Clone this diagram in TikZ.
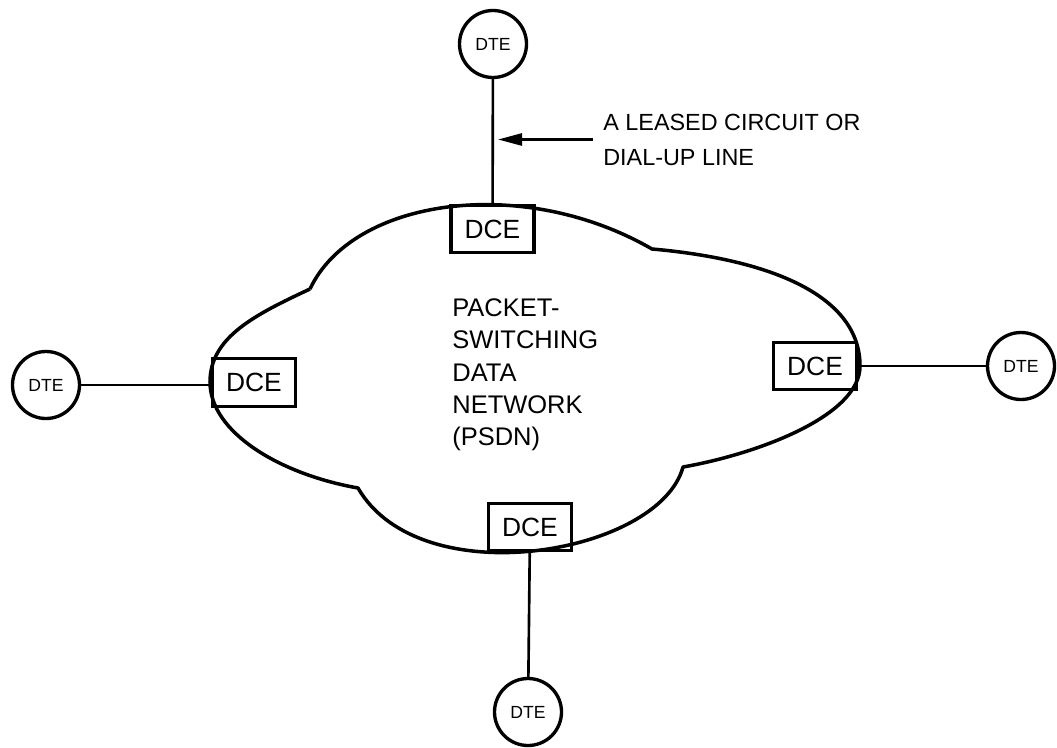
\documentclass[tikz,border=0pt]{standalone}
\usepackage{fontspec}
\setmainfont{Liberation Sans}
\usetikzlibrary{positioning}
\usetikzlibrary{arrows.meta}

\begin{document}
\begin{tikzpicture}[
    dte/.style={shape=circle,draw=black,line width=1.9pt,minimum size=1.34cm,inner sep=0pt,font=\fontsize{10}{12}\selectfont},
    dce/.style={shape=rectangle,draw=black,line width=1.9pt,minimum width=1.66cm,minimum height=0.95cm,inner sep=0pt,font=\fontsize{15}{17}\selectfont},
    link/.style={draw=black,line width=1.5pt},
    cloudline/.style={draw=black,line width=2pt,line join=round}
  ]
    \useasboundingbox (0,0) rectangle (21.14,14.94);

    % the network cloud
    \draw[cloudline] (6.2,9.16)
        .. controls (7.05,10.97) and (10.44,11.46) .. (13.04,9.96)
        .. controls (15.43,9.75) and (17.2,9.02) .. (17.2,7.62)
        .. controls (17.2,6.62) and (15.14,5.86) .. (13.66,5.6)
        .. controls (13.19,3.86) and (8.41,3.015) .. (7.16,5.18)
        .. controls (5.58,5.46) and (4.2,6.3) .. (4.2,7.3)
        .. controls (4.2,8.2) and (5.11,8.65) .. (6.2,9.16);

    \node[text width=4cm,align=left,anchor=west,inner sep=0pt,font=\fontsize{14.5}{18.4}\selectfont] (psdn) at (9.04,7.44)
        {PACKET-\\SWITCHING\\DATA\\NETWORK\\(PSDN)};

    \node[dce] (dceTop) at (9.85,10.36) {DCE};
    \node[dce] (dceLeft) at (5.08,7.29) {DCE};
    \node[dce] (dceRight) at (16.3,7.62) {DCE};
    \node[dce] (dceBottom) at (10.6,4.4) {DCE};

    \node[dte] (dteTop) at (9.86,14.06) {DTE};
    \node[dte] (dteLeft) at (0.92,7.24) {DTE};
    \node[dte] (dteRight) at (20.42,7.62) {DTE};
    \node[dte] (dteBottom) at (10.56,0.7) {DTE};

    \draw[link] (dteTop) -- (dceTop);
    \draw[link] (dteLeft) -- (dceLeft.west |- dteLeft);
    \draw[link] (dceRight) -- (dteRight);
    \draw[link] (dceBottom) -- (dteBottom);

    % callout for the access line
    \node[anchor=west,align=left,inner sep=0.2cm,font=\fontsize{13.3}{19.9}\selectfont] (leased) at (11.86,12.15)
        {A LEASED CIRCUIT OR\\DIAL-UP LINE};
    \coordinate (lineTip) at (9.96,12.15);
    \draw[link,-{Triangle[length=0.48cm,width=0.24cm]}] (leased.west) -- (lineTip);
\end{tikzpicture}
\end{document}
